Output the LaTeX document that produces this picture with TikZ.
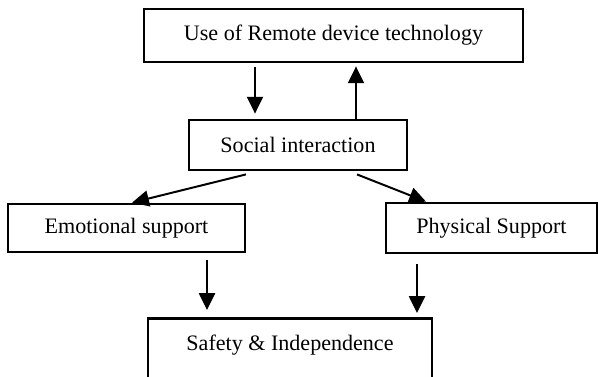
\documentclass[tikz,border=0pt]{standalone}
\usepackage{fontspec}
\setmainfont{Liberation Serif}
\usetikzlibrary{arrows.meta, calc}
\tikzset{
  every picture/.style={font=\fontsize{15.7}{18}\selectfont},
  box/.style={draw=black, line width=2pt, align=center, inner sep=2pt, minimum height=1.25cm},
  arrow/.style={-{Triangle[length=0.42cm, width=0.4cm]}, draw=black, line width=1.4pt},
}
\begin{document}
\begin{tikzpicture}
  \useasboundingbox (0,0) rectangle (14.95,-9.4);
  % the boxes
  \node[box, minimum width=9.475cm, minimum height=1.325cm] (tech) at (8.3375,-0.8875) {Use of Remote device technology};
  \node[box, minimum width=5.45cm] (social) at (7.45,-3.625) {Social interaction};
  \node[box, minimum width=5.925cm, minimum height=1.2cm] (emo) at (3.1625,-5.7) {Emotional support};
  \node[box, minimum width=5.275cm] (phys) at (12.2875,-5.7) {Physical Support};
  \node[box, minimum width=7.1cm, inner ysep=0pt, text height=0.8cm, text depth=1.2cm, anchor=north] (safe) at (7.25,-7.925) {Safety \& Independence};
  % connectors
  \draw[arrow, shorten <=0.1cm, shorten >=0.125cm] ([xshift=-1.075cm]social.north |- tech.south) -- ([xshift=-1.075cm]social.north);
  \draw[arrow, shorten >=0.075cm] ([xshift=1.45cm]social.north) -- ([xshift=1.45cm]social.north |- tech.south);
  \draw[arrow] ([xshift=-1.3cm, yshift=-0.075cm]social.south) -- ([xshift=0.14cm]emo.north);
  \draw[arrow] ([xshift=1.475cm, yshift=-0.075cm]social.south) -- ([xshift=-1.6375cm]phys.north);
  \draw[arrow, shorten <=0.175cm, shorten >=0.175cm] ([xshift=-2.075cm]safe.north |- emo.south) -- ([xshift=-2.075cm]safe.north);
  \draw[arrow, shorten <=0.25cm, shorten >=0.1cm] ([xshift=3.175cm]safe.north |- phys.south) -- ([xshift=3.175cm]safe.north);
\end{tikzpicture}
\end{document}
